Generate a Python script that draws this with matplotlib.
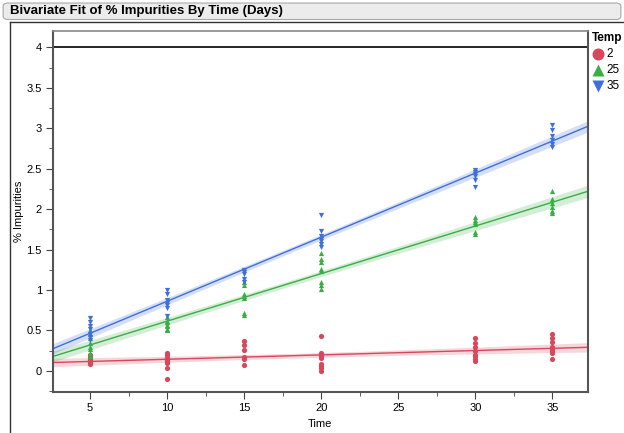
import numpy as np
import matplotlib
matplotlib.use("Agg")
import matplotlib.pyplot as plt
from matplotlib.patches import FancyBboxPatch
from matplotlib.lines import Line2D
from matplotlib.ticker import MultipleLocator, FormatStrFormatter

plt.rcParams['font.family'] = ['Liberation Sans', 'DejaVu Sans']

# data: % impurities per time point, by storage temperature
time_2 = [5] * 10 + [10] * 8 + [15] * 6 + [20] * 9 + [30] * 8 + [35] * 8
imp_2 = [0.08, 0.1, 0.11, 0.12, 0.13, 0.14, 0.15, 0.17, 0.19, 0.2,
         0.22, 0.19, 0.16, 0.14, 0.12, 0.1, 0.04, -0.1,
         0.37, 0.32, 0.26, 0.17, 0.15, 0.07,
         0.43, 0.22, 0.2, 0.18, 0.16, 0.09, 0.06, 0.03, 0.0,
         0.4, 0.35, 0.3, 0.25, 0.2, 0.18, 0.15, 0.12,
         0.46, 0.41, 0.36, 0.3, 0.27, 0.25, 0.22, 0.15]

time_25 = [5] * 8 + [10] * 7 + [15] * 7 + [20] * 8 + [30] * 6 + [35] * 6
imp_25 = [0.5, 0.45, 0.4, 0.35, 0.3, 0.27, 0.22, 0.18,
          0.66, 0.62, 0.6, 0.57, 0.55, 0.52, 0.5,
          1.1, 1.06, 0.95, 0.92, 0.9, 0.72, 0.69,
          1.46, 1.38, 1.34, 1.26, 1.24, 1.1, 1.06, 1.01,
          1.9, 1.87, 1.84, 1.81, 1.72, 1.69,
          2.22, 2.12, 2.08, 2.02, 1.98, 1.95]

time_35 = [5] * 7 + [10] * 7 + [15] * 5 + [20] * 7 + [30] * 6 + [35] * 6
imp_35 = [0.65, 0.6, 0.56, 0.52, 0.45, 0.42, 0.38,
          1.0, 0.95, 0.87, 0.84, 0.81, 0.78, 0.68,
          1.25, 1.22, 1.2, 1.13, 1.1,
          1.93, 1.73, 1.67, 1.63, 1.6, 1.57, 1.53,
          2.48, 2.46, 2.43, 2.41, 2.36, 2.27,
          3.04, 2.98, 2.9, 2.86, 2.81, 2.77]

temps = ['2', '25', '35']
spec_limit = 4

series = [
    (time_2, imp_2, '#D8475B', 'o'),
    (time_25, imp_25, '#3AAE45', '^'),
    (time_35, imp_35, '#3F6FDC', 'v'),
]

fig = plt.figure(figsize=(6.24, 4.33), dpi=100)

# title bar and outer report frame
fig.add_artist(FancyBboxPatch((0.005, 0.955), 0.99, 0.038,
                              boxstyle="round,pad=0,rounding_size=0.008",
                              transform=fig.transFigure, facecolor='#ECECEC',
                              edgecolor='#A8A8A8', linewidth=0.8))
fig.text(0.016, 0.974, 'Bivariate Fit of % Impurities By Time (Days)',
         fontsize=9.5, fontweight='bold', va='center', ha='left')
fig.add_artist(Line2D([0.016, 1.0], [0.949, 0.949], color='#333333', lw=1.0,
                      transform=fig.transFigure))
fig.add_artist(Line2D([0.016, 0.016], [0.0, 0.949], color='#333333', lw=1.0,
                      transform=fig.transFigure))

ax = fig.add_axes([0.085, 0.095, 0.857, 0.833])

x_line = np.linspace(2.6, 37.3, 200)
t_crit = 2.02
handles = []
for (t, y, color, marker), label in zip(series, temps):
    t = np.asarray(t, float)
    y = np.asarray(y, float)
    slope, icpt = np.polyfit(t, y, 1)
    yhat = icpt + slope * x_line
    resid = y - (icpt + slope * t)
    n = len(t)
    s = np.sqrt(np.sum(resid ** 2) / (n - 2))
    sxx = np.sum((t - t.mean()) ** 2)
    half = t_crit * s * np.sqrt(1 / n + (x_line - t.mean()) ** 2 / sxx)
    ax.fill_between(x_line, yhat - half, yhat + half, color=color, alpha=0.22, lw=0)
    ax.plot(x_line, yhat, color=color, lw=1.0)
    h = ax.scatter(t, y, s=14, marker=marker, color=color, lw=0, zorder=3, label=label)
    handles.append(h)

ax.axhline(spec_limit, color='black', lw=1.2)

ax.set_xlim(2.6, 37.3)
ax.set_ylim(-0.26, 4.2)
ax.xaxis.set_major_locator(MultipleLocator(5))
ax.xaxis.set_minor_locator(MultipleLocator(2.5))
ax.yaxis.set_major_locator(MultipleLocator(0.5))
ax.yaxis.set_minor_locator(MultipleLocator(0.25))
ax.xaxis.set_major_formatter(FormatStrFormatter('%g'))
ax.yaxis.set_major_formatter(FormatStrFormatter('%g'))
ax.tick_params(which='both', direction='out', labelsize=8, color='#444444')
ax.tick_params(which='major', length=5, pad=3)
ax.tick_params(which='minor', length=3)
for side in ['left', 'bottom', 'right']:
    ax.spines[side].set_color('#555555')
    ax.spines[side].set_linewidth(1.5)
ax.spines['top'].set_color('#888888')
ax.spines['top'].set_linewidth(1.2)

ax.set_xlabel('Time', fontsize=8, labelpad=4)
ax.set_ylabel('% Impurities', fontsize=8, labelpad=1.5)

leg = ax.legend(handles=handles, title='Temp', loc='upper left',
                bbox_to_anchor=(0.99, 1.025), frameon=False, fontsize=8.5,
                handletextpad=0.25, labelspacing=0.35, borderpad=0.3,
                handlelength=1.0, alignment='left', markerscale=2.3)
leg.get_title().set_fontweight('bold')
leg.get_title().set_fontsize(8.5)

fig.savefig('out.png', dpi=100)
